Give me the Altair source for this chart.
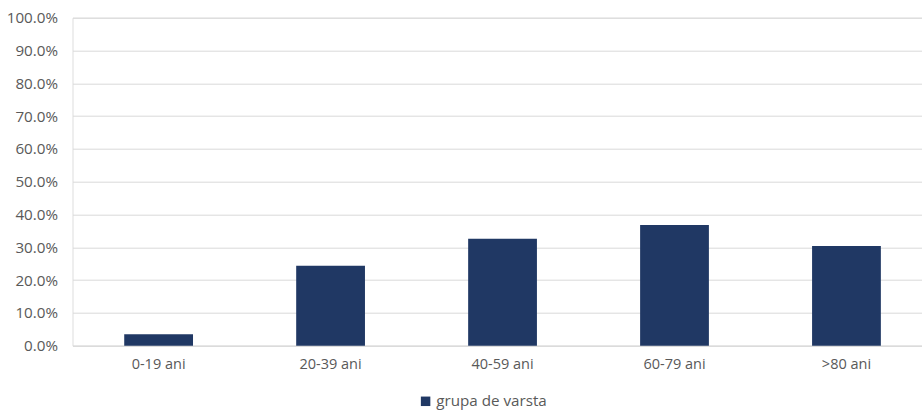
import altair as alt
import pandas as pd

# Share of cases by age group
groups = ["0-19 ani", "20-39 ani", "40-59 ani", "60-79 ani", ">80 ani"]
shares = [0.035, 0.244, 0.326, 0.368, 0.304]
series_name = "grupa de varsta"
y_ticks = [i / 10 for i in range(11)]

df = pd.DataFrame({"grupa": groups, "pondere": shares, "serie": series_name})

FONT = "Open Sans"
TEXT_COLOR = "#595959"
GRID_COLOR = "#d9d9d9"
BAR_COLOR = "#203864"

chart = (
    alt.Chart(df)
    .mark_bar(color=BAR_COLOR)
    .encode(
        x=alt.X(
            "grupa:N",
            sort=groups,
            title=None,
            scale=alt.Scale(paddingInner=0.6, paddingOuter=0.27, align=0.557),
            axis=alt.Axis(
                labelAngle=0,
                labelFont=FONT,
                labelFontSize=14.5,
                labelColor=TEXT_COLOR,
                labelPadding=12,
                ticks=False,
                domain=True,
                domainColor=GRID_COLOR,
                grid=False,
            ),
        ),
        y=alt.Y(
            "pondere:Q",
            title=None,
            scale=alt.Scale(domain=[0, 1], nice=False),
            axis=alt.Axis(
                values=y_ticks,
                format=".1%",
                labelFont=FONT,
                labelFontSize=15.2,
                labelColor=TEXT_COLOR,
                labelPadding=15,
                ticks=False,
                domain=False,
                grid=True,
                gridColor=GRID_COLOR,
                gridWidth=1,
            ),
        ),
        color=alt.Color(
            "serie:N",
            scale=alt.Scale(range=[BAR_COLOR]),
            legend=alt.Legend(
                title=None,
                orient="none",
                legendX=345.5,
                legendY=376,
                symbolType="square",
                symbolSize=90,
                symbolStrokeWidth=0,
                labelFont=FONT,
                labelFontSize=15.2,
                labelColor=TEXT_COLOR,
                labelOffset=3,
            ),
        ),
    )
    .properties(
        width=849.5,
        height=328,
        autosize=alt.AutoSizeParams(type="none"),
        padding={"left": 72.5, "top": 17.7, "right": 0, "bottom": 65.3},
    )
    .configure_view(stroke=None)
    .configure(background="white")
)

chart.save("out.html", embed_options={"renderer": "svg", "actions": False})
